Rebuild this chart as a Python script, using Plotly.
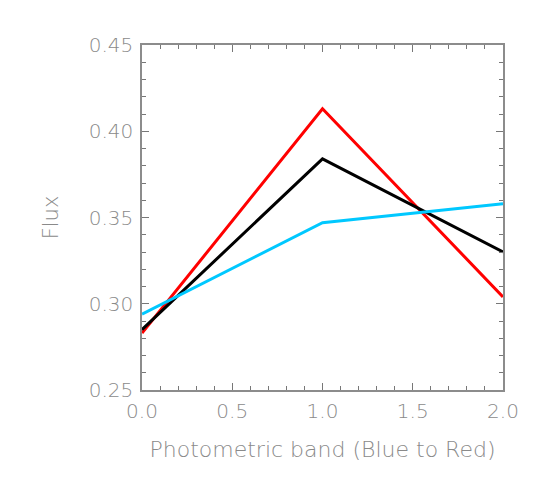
import plotly.graph_objects as go

band = [0.0, 1.0, 2.0]
flux_red = [0.283, 0.413, 0.304]
flux_black = [0.285, 0.384, 0.330]
flux_cyan = [0.294, 0.347, 0.358]

x_ticks = [0.0, 0.5, 1.0, 1.5, 2.0]
y_ticks = [0.25, 0.30, 0.35, 0.40, 0.45]

FONT = "DejaVu Sans"
GRAY = "#8a8a8a"

fig = go.Figure()
fig.add_trace(go.Scatter(x=band, y=flux_red, mode="lines", line=dict(color="#ff0000", width=3)))
fig.add_trace(go.Scatter(x=band, y=flux_black, mode="lines", line=dict(color="#000000", width=3)))
fig.add_trace(go.Scatter(x=band, y=flux_cyan, mode="lines", line=dict(color="#00c8ff", width=3)))

axis_common = dict(
    showgrid=False, zeroline=False, showline=True, linecolor="#8c8c8c", linewidth=1.5,
    mirror="allticks", ticks="inside", ticklen=7, tickwidth=1, tickcolor="#777777",
    tickfont=dict(family=FONT, size=20, color=GRAY, weight=200),
)

# body has an 8px default margin in the page, so offsets compensate
fig.update_layout(
    width=545, height=482,
    margin=dict(l=134, r=50, t=37, b=100),
    paper_bgcolor="white", plot_bgcolor="white",
    showlegend=False,
    xaxis=dict(
        range=[0, 2], tickvals=x_ticks, tickformat=".1f",
        minor=dict(dtick=0.1, ticks="inside", ticklen=4, tickcolor="#777777", showgrid=False),
        title=dict(text="Photometric band (Blue to Red)", font=dict(family=FONT, size=22, color=GRAY, weight=200), standoff=20),
        ticklabelstandoff=2,
        **axis_common,
    ),
    yaxis=dict(
        range=[0.25, 0.45], tickvals=y_ticks, tickformat=".2f",
        minor=dict(dtick=0.01, ticks="inside", ticklen=4, tickcolor="#777777", showgrid=False),
        title=dict(text="Flux", font=dict(family=FONT, size=21, color=GRAY, weight=200), standoff=24),
        ticklabelstandoff=3,
        **axis_common,
    ),
)

fig.write_html("out.html")
